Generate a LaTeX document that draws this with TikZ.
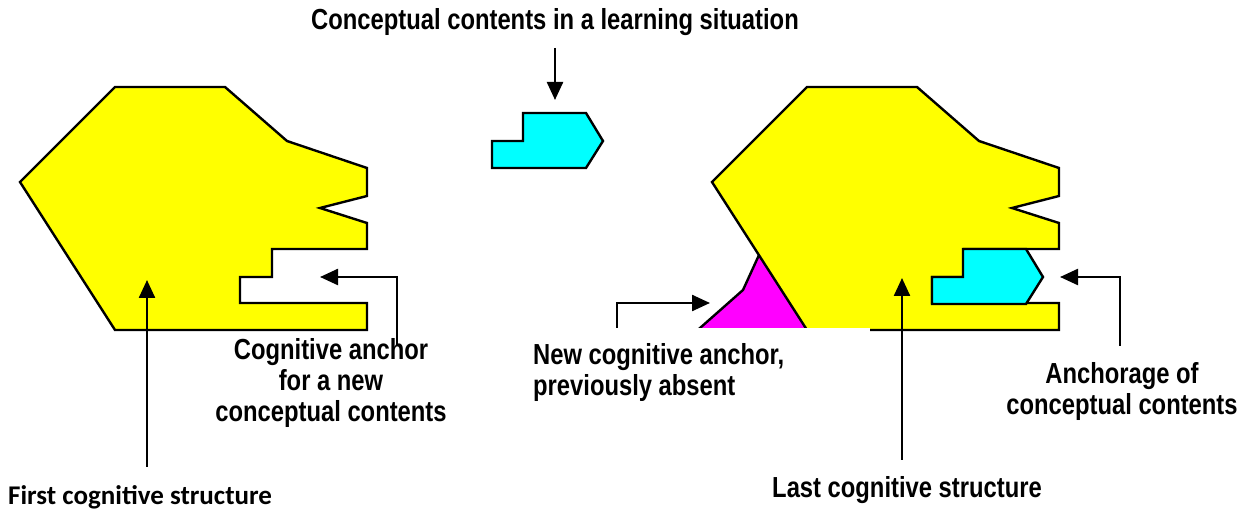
\documentclass[tikz,border=0pt]{standalone}
\usepackage{fontspec}
\usetikzlibrary{arrows.meta}
\newfontfamily\narfont[FakeStretch=0.82]{Liberation Sans}
\newfontfamily\calfont{Carlito}
\tikzset{
  shp/.style={draw=black, line width=2.4pt, line join=miter},
  arr/.style={draw=black, line width=2.4pt, -{Triangle[length=18pt,width=16pt]}},
  lab/.style={font=\narfont\bfseries\fontsize{29}{31}\selectfont, inner sep=0pt, align=center},
}
\definecolor{yel}{RGB}{255,255,0}
\definecolor{cya}{RGB}{0,255,255}
\definecolor{mag}{RGB}{255,0,255}
\newcommand\headshape{(115,87) -- (225,87) -- (287,141) -- (367,168) -- (367,196) -- (320,208) -- (367,223) -- (367,249) -- (272,249) -- (272,277) -- (240,277) -- (240,303) -- (367,303) -- (367,330) -- (115,330) -- (20,182) -- cycle}
\newcommand\pieceshape{(492,141) -- (523,141) -- (523,113) -- (586,113) -- (603,141) -- (586,168) -- (492,168) -- cycle}
\begin{document}
\begin{tikzpicture}[x=1pt,y=-1pt]
\useasboundingbox (0,0) rectangle (1251,518);
% left structure
\path[shp, fill=yel] \headshape;
% free conceptual content
\path[shp, fill=cya] \pieceshape;
% magenta new anchor
\path[shp, fill=mag] (759,255) -- (743,290) -- (700,328) -- (690,337) -- (820,337) -- cycle;
% right structure
\begin{scope}[shift={(692,0)}]
\path[shp, fill=yel] \headshape;
\end{scope}
\begin{scope}[shift={(440,136)}]
\path[shp, fill=cya] \pieceshape;
\end{scope}
% white cover
\fill[white] (520,328.5) rectangle (870,420);
% coordinates for connectors
\coordinate (topS) at (555,48);
\coordinate (topT) at (555,100);
\coordinate (firstS) at (147,467);
\coordinate (firstT) at (147,280);
\coordinate (cogS) at (397,345);
\coordinate (cogT) at (320,277);
\coordinate (newS) at (617,328);
\coordinate (newT) at (710,303);
\coordinate (lastS) at (902,460);
\coordinate (lastT) at (902,278);
\coordinate (ancS) at (1120,346);
\coordinate (ancT) at (1060,277);
\draw[arr] (topS) -- (topT);
\draw[arr] (firstS) -- (firstT);
\draw[arr] (cogS) |- (cogT);
\draw[arr] (newS) |- (newT);
\draw[arr] (lastS) -- (lastT);
\draw[arr] (ancS) |- (ancT);
% labels
\node[lab] (ltop) at (555,22) {Conceptual contents in a learning situation};
\node[lab] (lcog) at (331,383) {Cognitive anchor\\for a new\\conceptual contents};
\node[lab, align=left, anchor=west] (lnew) at (533,372.5) {New cognitive anchor,\\previously absent};
\node[lab] (llast) at (907,490) {Last cognitive structure};
\node[lab] (lanc) at (1122,392) {Anchorage of\\conceptual contents};
\node[font=\calfont\bfseries\fontsize{27}{30}\selectfont, inner sep=0pt, anchor=west] (lfirst) at (8,497) {First cognitive structure};
\end{tikzpicture}
\end{document}
